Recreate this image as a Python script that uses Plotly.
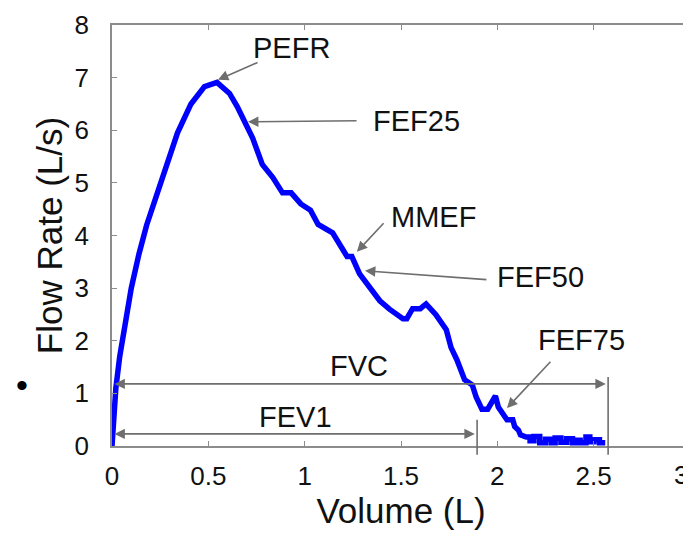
import plotly.graph_objects as go

# ---- data ----
volume = [0, 0.01, 0.02, 0.04, 0.07, 0.10, 0.14, 0.18, 0.23, 0.285, 0.34, 0.41, 0.45, 0.48,
          0.545, 0.61, 0.65, 0.69, 0.73, 0.78, 0.835, 0.885, 0.93, 0.98, 1.03, 1.07, 1.145,
          1.22, 1.245, 1.285, 1.35, 1.39, 1.44, 1.51, 1.53, 1.56, 1.60, 1.63, 1.68, 1.735,
          1.76, 1.79, 1.83, 1.87, 1.89, 1.92, 1.95, 1.97, 1.99, 2.005, 2.035, 2.05, 2.08,
          2.09, 2.11, 2.12, 2.15, 2.17, 2.17, 2.19, 2.19, 2.22, 2.22, 2.25, 2.25, 2.28,
          2.28, 2.30, 2.30, 2.33, 2.33, 2.36, 2.36, 2.39, 2.39, 2.41, 2.41, 2.43, 2.43,
          2.46, 2.46, 2.48, 2.48, 2.50, 2.50, 2.53, 2.53, 2.56]
flow = [0, 0.6, 1.1, 1.7, 2.4, 3.0, 3.65, 4.2, 4.75, 5.35, 5.95, 6.5, 6.7, 6.83,
        6.91, 6.7, 6.45, 6.15, 5.85, 5.35, 5.1, 4.81, 4.81, 4.6, 4.48, 4.21, 4.05,
        3.6, 3.6, 3.27, 2.97, 2.76, 2.6, 2.42, 2.42, 2.61, 2.61, 2.7, 2.5, 2.21,
        1.87, 1.64, 1.26, 1.16, 0.93, 0.7, 0.7, 0.82, 0.95, 0.74, 0.6, 0.5, 0.5,
        0.37, 0.3, 0.21, 0.17, 0.17, 0.10, 0.10, 0.18, 0.18, 0.06, 0.06, 0.13, 0.13,
        0.06, 0.06, 0.15, 0.15, 0.07, 0.07, 0.14, 0.14, 0.06, 0.06, 0.11, 0.11, 0.06,
        0.06, 0.17, 0.17, 0.08, 0.08, 0.12, 0.12, 0.06, 0.06]

x_tick_vals = [0, 0.5, 1, 1.5, 2, 2.5, 3]
x_tick_text = ["0", "0.5", "1", "1.5", "2", "2.5", "3"]
y_tick_vals = [0, 1, 2, 3, 4, 5, 6, 7, 8]

# label name, arrow tip (x, y), arrow tail (x, y), text position (x, y)
labels = ["PEFR", "FEF25", "MMEF", "FEF50", "FEF75"]
tips = [(0.55, 6.96), (0.706, 6.16), (1.271, 3.69), (1.313, 3.33), (2.05, 0.72)]
tails = [(0.763, 7.30), (1.277, 6.18), (1.417, 4.26), (1.951, 3.16), (2.283, 1.63)]
text_pos = [(0.934, 7.57), (1.583, 6.18), (1.671, 4.35), (2.226, 3.21), (2.439, 2.02)]

fvc_volume = 2.575
fev1_volume = 1.895
fvc_level = 1.18
fev1_level = 0.23

FONT = "Liberation Sans, Arial, sans-serif"
GRAY = "#6e6e6e"
AXIS = "#8c8c8c"

fig = go.Figure()
fig.add_trace(go.Scatter(x=volume, y=flow, mode="lines",
                         line=dict(color="#0000ff", width=5.5), showlegend=False,
                         hoverinfo="skip"))

annotations = []
for name, tip, tail, tp in zip(labels, tips, tails, text_pos):
    annotations.append(dict(x=tip[0], y=tip[1], ax=tail[0], ay=tail[1],
                            xref="x", yref="y", axref="x", ayref="y", text="",
                            showarrow=True, arrowhead=2, arrowsize=1.3, arrowwidth=1.6,
                            arrowcolor=GRAY))
    annotations.append(dict(x=tp[0], y=tp[1], xref="x", yref="y", text=name,
                            showarrow=False, font=dict(family=FONT, size=29, color="#111")))

# FVC / FEV1 double arrows
for lvl, end in [(fvc_level, fvc_volume - 0.012), (fev1_level, fev1_volume - 0.012)]:
    annotations.append(dict(x=end, y=lvl, ax=0.005, ay=lvl, xref="x", yref="y",
                            axref="x", ayref="y", text="", showarrow=True,
                            arrowhead=2, startarrowhead=2, arrowside="end+start",
                            arrowsize=1.3, startarrowsize=1.3, arrowwidth=1.6,
                            arrowcolor=GRAY))
annotations.append(dict(x=1.28, y=1.52, xref="x", yref="y", text="FVC", showarrow=False,
                        font=dict(family=FONT, size=29, color="#111")))
annotations.append(dict(x=0.95, y=0.55, xref="x", yref="y", text="FEV1", showarrow=False,
                        font=dict(family=FONT, size=29, color="#111")))
# stray bullet from source document
annotations.append(dict(x=-0.17, y=0.095, xref="paper", yref="paper", text="•",
                        showarrow=False, font=dict(family=FONT, size=34, color="#000")))
# last x tick label, kept inside the window edge
annotations.append(dict(x=3, y=-0.07, xref="x", yref="paper", text=x_tick_text[-1],
                        showarrow=False, yanchor="middle", xanchor="right",
                        font=dict(family=FONT, size=26, color="#111")))

shapes = [
    dict(type="line", xref="x", yref="paper", x0=fvc_volume, x1=fvc_volume,
         y0=-0.021, y1=1.31 / 8, line=dict(color=GRAY, width=1.6)),
    dict(type="line", xref="x", yref="paper", x0=fev1_volume, x1=fev1_volume,
         y0=-0.021, y1=0.5 / 8, line=dict(color=GRAY, width=1.6)),
]

# the page body has an 8px margin, so the figure is sized to end at the window edge
fig.update_layout(
    width=683, height=532,
    margin=dict(l=104, r=1, t=17, b=94, autoexpand=False),
    paper_bgcolor="white", plot_bgcolor="white",
    annotations=annotations, shapes=shapes,
    font=dict(family=FONT, color="#111"),
)
fig.update_xaxes(range=[0, 3], tickvals=x_tick_vals[:-1], ticktext=x_tick_text[:-1],
                 ticks="inside", ticklen=5, tickcolor=AXIS, showline=True,
                 linecolor=AXIS, linewidth=1.5, mirror="ticks", showgrid=False,
                 zeroline=False, tickfont=dict(family=FONT, size=26, color="#111"),
                 ticklabelstandoff=6, automargin=False,
                 title=dict(text="Volume (L)", font=dict(family=FONT, size=35, color="#111"),
                            standoff=6))
fig.update_yaxes(range=[0, 8], tickvals=y_tick_vals,
                 ticks="inside", ticklen=5, tickcolor=AXIS, showline=True,
                 linecolor=AXIS, linewidth=1.5, mirror="ticks", showgrid=False,
                 zeroline=False, tickfont=dict(family=FONT, size=26, color="#111"),
                 ticklabelstandoff=16, automargin=False,
                 title=dict(text="Flow Rate (L/s)", font=dict(family=FONT, size=35, color="#111"),
                            standoff=1))

fig.write_html("out.html")
